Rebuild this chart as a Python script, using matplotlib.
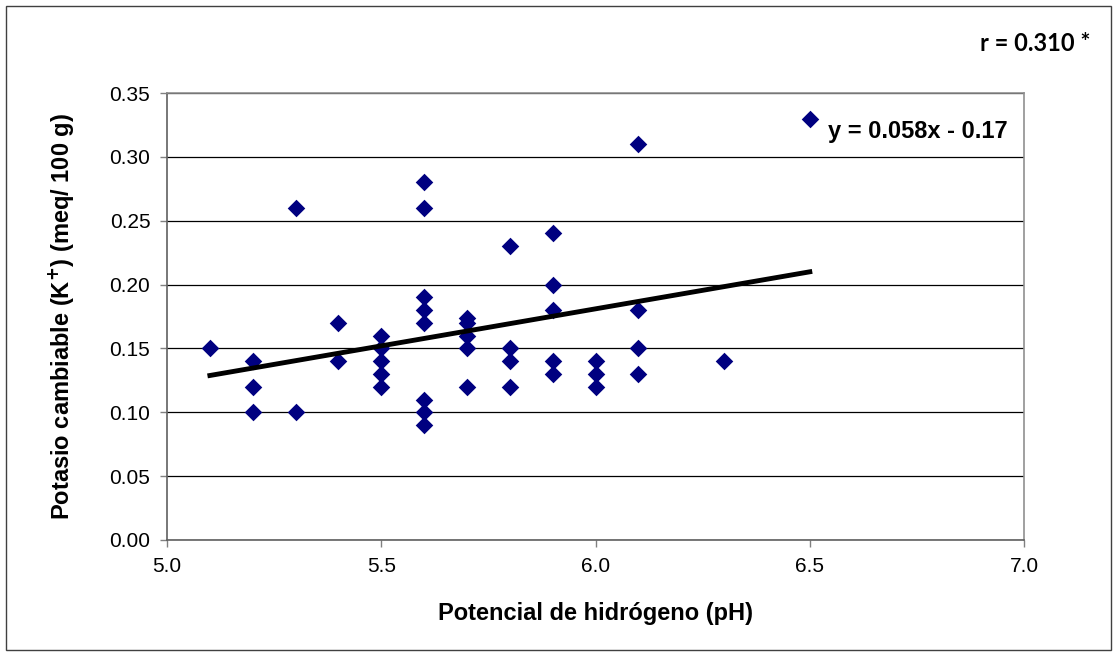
import numpy as np
import matplotlib
matplotlib.use("Agg")
import matplotlib.pyplot as plt
from matplotlib.patches import Rectangle

# Datos: pH vs potasio cambiable
ph = [5.1,
      5.2, 5.2, 5.2,
      5.3, 5.3,
      5.4, 5.4,
      5.5, 5.5, 5.5, 5.5, 5.5,
      5.6, 5.6, 5.6, 5.6, 5.6, 5.6, 5.6, 5.6,
      5.7, 5.7, 5.7, 5.7, 5.7,
      5.8, 5.8, 5.8, 5.8,
      5.9, 5.9, 5.9, 5.9, 5.9,
      6.0, 6.0, 6.0,
      6.1, 6.1, 6.1, 6.1,
      6.3,
      6.5]
potasio = [0.15,
           0.14, 0.12, 0.10,
           0.26, 0.10,
           0.17, 0.14,
           0.16, 0.15, 0.14, 0.13, 0.12,
           0.28, 0.26, 0.19, 0.18, 0.17, 0.11, 0.10, 0.09,
           0.174, 0.17, 0.16, 0.15, 0.12,
           0.23, 0.15, 0.14, 0.12,
           0.24, 0.20, 0.18, 0.14, 0.13,
           0.14, 0.13, 0.12,
           0.31, 0.18, 0.15, 0.13,
           0.14,
           0.33]

pendiente, intercepto = 0.058, -0.17
ecuacion = "y = 0.058x - 0.17"
texto_r = "r = 0.310 *"

plt.rcParams['font.family'] = ['Liberation Sans', 'DejaVu Sans']

fig = plt.figure(figsize=(11.18, 6.55), dpi=100)
ax = fig.add_axes([0.1494, 0.1756, 0.7666, 0.6824])

# borde exterior del gráfico
fig.patches.append(Rectangle((0.005, 0.008), 0.989, 0.983, transform=fig.transFigure,
                             fill=False, edgecolor="#404040", linewidth=1.0))

ax.scatter(ph, potasio, marker="D", s=80, color="#000080", zorder=3, linewidths=0)

# línea de tendencia
xs = np.array([min(ph), max(ph)])
ax.plot(xs, pendiente * xs + intercepto + 0.003, color="black", linewidth=3.5, zorder=4)

ax.set_xlim(5.0, 7.0)
ax.set_ylim(0.0, 0.35)
ax.set_xticks(np.arange(5.0, 7.01, 0.5))
ax.set_yticks(np.arange(0.0, 0.351, 0.05))
ax.xaxis.set_major_formatter(plt.FormatStrFormatter("%.1f"))
ax.yaxis.set_major_formatter(plt.FormatStrFormatter("%.2f"))
ax.tick_params(direction="out", length=5, width=1, color="#808080", labelsize=15, pad=7)

ax.yaxis.grid(True, color="black", linewidth=0.9)
ax.set_axisbelow(True)
for lado in ["top", "right"]:
    ax.spines[lado].set_color("#909090")
for lado in ["left", "bottom"]:
    ax.spines[lado].set_color("#606060")
for sp in ax.spines.values():
    sp.set_linewidth(1.2)

ax.set_xlabel("Potencial de hidrógeno (pH)", fontsize=17, fontweight="bold", labelpad=19)
ax.set_ylabel("Potasio cambiable (K$^{\\mathbf{+}}$) (meq/ 100 g)", fontsize=17,
              fontweight="bold", labelpad=24)

ax.text(6.543, 0.320, ecuacion, fontsize=17, fontweight="bold", zorder=5, va="center",
        bbox=dict(facecolor="white", edgecolor="none", pad=3))

fig.text(0.975, 0.934, texto_r, fontsize=17, fontweight="bold", ha="right", va="center",
         family=["Lato", "DejaVu Sans"])

fig.savefig("out.png", dpi=100)
